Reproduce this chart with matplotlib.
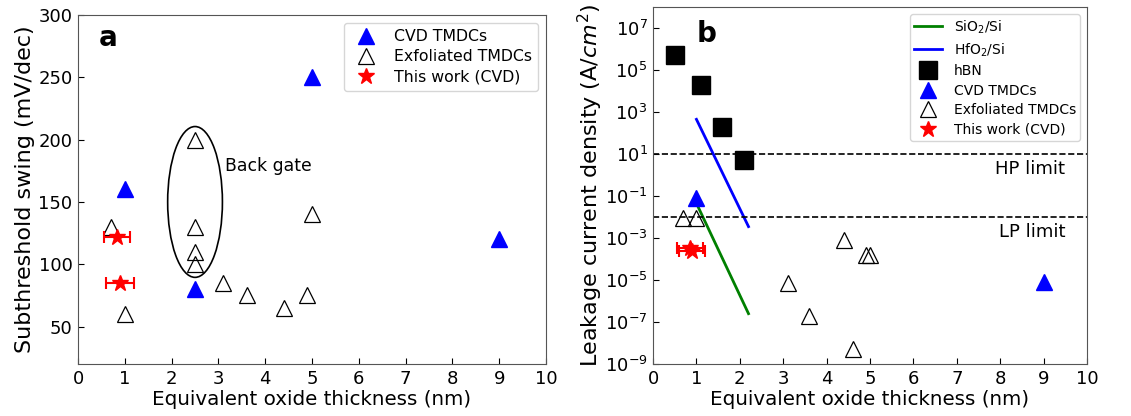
import numpy as np
import matplotlib
matplotlib.use("Agg")
import matplotlib.pyplot as plt
from matplotlib.patches import Ellipse
from matplotlib.ticker import NullLocator

# panel a data (subthreshold swing)
a_cvd_x = [1.0, 2.5, 5.0, 9.0]
a_cvd_y = [160, 80, 250, 120]
a_exf_x = [0.7, 1.0, 2.5, 2.5, 2.5, 2.5, 3.1, 3.6, 4.4, 4.9, 5.0]
a_exf_y = [130, 60, 200, 130, 110, 100, 85, 75, 65, 75, 140]
a_work_x = [0.83, 0.9]
a_work_y = [122, 85]
a_work_xerr = [0.27, 0.3]

# panel b data (leakage current density)
b_hbn_x = [0.5, 1.1, 1.6, 2.1]
b_hbn_y = [5e5, 2e4, 2e2, 5]
b_cvd_x = [1.0, 9.0]
b_cvd_y = [0.08, 8e-6]
b_exf_x = [0.7, 1.0, 3.1, 3.6, 4.4, 4.6, 4.9, 5.0]
b_exf_y = [9e-3, 9e-3, 7e-6, 2e-7, 8e-4, 5e-9, 1.6e-4, 1.6e-4]
b_work_x = [0.85, 0.9]
b_work_y = [3.2e-4, 2.5e-4]
b_work_xerr = [0.3, 0.3]
sio2_x = [1.0, 2.2]
sio2_y = [0.045, 2.5e-7]
hfo2_x = [1.0, 2.2]
hfo2_y = [450, 3.5e-3]
hp_limit = 10
lp_limit = 0.01

fig = plt.figure(figsize=(11.31, 4.16), dpi=100)
ax1 = fig.add_axes([0.069, 0.125, 0.4138, 0.839])
ax2 = fig.add_axes([0.5774, 0.125, 0.3837, 0.858])

tick_fs = 13
xlabel_fs = 14.3
ylabel_fs = 16

# ---- panel a ----
ax1.plot(a_cvd_x, a_cvd_y, '^', color='blue', ms=12, ls='none', label='CVD TMDCs')
ax1.plot(a_exf_x, a_exf_y, '^', mfc='none', mec='black', mew=0.9, ms=12, ls='none',
         label='Exfoliated TMDCs')
ax1.errorbar(a_work_x, a_work_y, xerr=a_work_xerr, fmt='none', ecolor='red',
             capsize=4, elinewidth=1.5, capthick=1.5)
ax1.plot(a_work_x, a_work_y, '*', color='red', ms=12, ls='none', label='This work (CVD)')
ax1.add_patch(Ellipse((2.5, 150), 1.17, 121, fill=False, edgecolor='black', lw=1.2))
ax1.text(3.15, 179, 'Back gate', fontsize=12.4, va='center')
ax1.text(0.045, 0.975, 'a', transform=ax1.transAxes, fontsize=20, fontweight='bold',
         va='top')
ax1.set_xlim(0, 10)
ax1.set_ylim(20, 300)
ax1.set_xticks(range(11))
ax1.set_yticks([50, 100, 150, 200, 250, 300])
ax1.set_xlabel('Equivalent oxide thickness (nm)', fontsize=xlabel_fs, labelpad=2)
ax1.set_ylabel('Subthreshold swing (mV/dec)', fontsize=ylabel_fs, labelpad=2)
ax1.legend(loc='upper right', fontsize=11.3, handletextpad=0.8, labelspacing=0.34,
           borderpad=0.4)

# ---- panel b ----
ax2.plot(sio2_x, sio2_y, color='green', lw=2, label='SiO$_2$/Si')
ax2.plot(hfo2_x, hfo2_y, color='blue', lw=2, label='HfO$_2$/Si')
ax2.plot(b_hbn_x, b_hbn_y, 's', color='black', ms=13, ls='none', label='hBN')
ax2.plot(b_cvd_x, b_cvd_y, '^', color='blue', ms=12, ls='none', label='CVD TMDCs')
ax2.plot(b_exf_x, b_exf_y, '^', mfc='none', mec='black', mew=0.9, ms=12, ls='none',
         label='Exfoliated TMDCs')
ax2.errorbar(b_work_x, b_work_y, xerr=b_work_xerr, fmt='none', ecolor='red',
             capsize=4, elinewidth=1.5, capthick=1.5)
ax2.plot(b_work_x, b_work_y, '*', color='red', ms=12, ls='none', label='This work (CVD)')
ax2.axhline(hp_limit, color='black', ls='--', lw=1.2)
ax2.axhline(lp_limit, color='black', ls='--', lw=1.2)
ax2.text(9.5, 2, 'HP limit', fontsize=13, ha='right', va='center')
ax2.text(9.5, 2e-3, 'LP limit', fontsize=13, ha='right', va='center')
ax2.text(0.10, 0.965, 'b', transform=ax2.transAxes, fontsize=20, fontweight='bold',
         va='top')
ax2.set_yscale('log')
ax2.set_xlim(0, 10)
ax2.set_ylim(1e-9, 1e8)
ax2.set_xticks(range(11))
ax2.set_yticks([10.0 ** k for k in range(-9, 8, 2)])
ax2.yaxis.set_minor_locator(NullLocator())
ax2.set_xlabel('Equivalent oxide thickness (nm)', fontsize=xlabel_fs, labelpad=2)
ax2.set_ylabel('Leakage current density (A/$cm^2$)', fontsize=ylabel_fs, labelpad=0)
ax2.legend(loc='upper right', fontsize=10, handletextpad=0.85, labelspacing=0.4,
           borderpad=0.3)

for ax in (ax1, ax2):
    ax.tick_params(direction='in', labelsize=tick_fs, length=4, pad=4)
    for sp in ax.spines.values():
        sp.set_color('#555555')

fig.savefig('out.png', dpi=100)
